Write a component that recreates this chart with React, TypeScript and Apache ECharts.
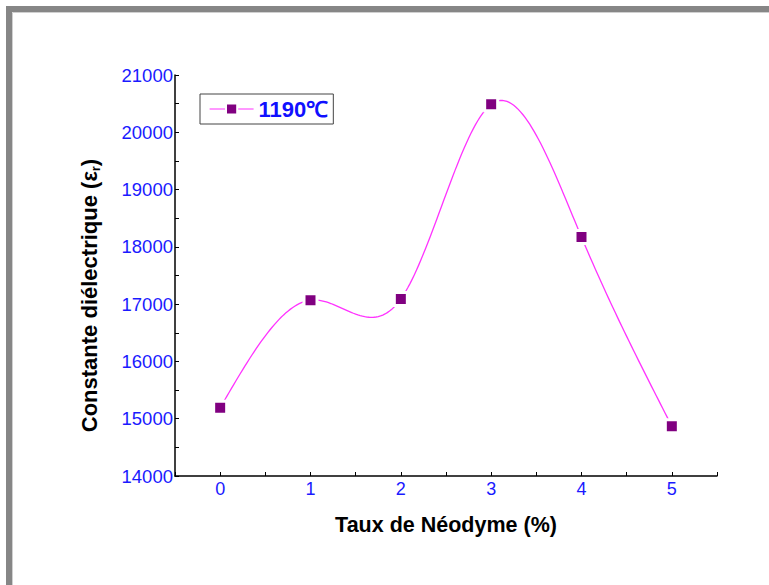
import React, { useEffect, useRef } from "react";
import * as echarts from "echarts";

const xValues = [0, 1, 2, 3, 4, 5];
const epsValues = [15190, 17070, 17090, 20490, 18170, 14870];
const seriesName = "1190℃";
const xTitle = "Taux de Néodyme (%)";
const yTitleMain = "Constante diélectrique (ε";
const yTitleSub = "r";

// natural cubic spline second derivatives (drawing of the curve through the data points)
function splineM(xs: number[], ys: number[]): number[] {
  const n = xs.length;
  const h: number[] = [];
  for (let i = 0; i < n - 1; i++) h.push(xs[i + 1] - xs[i]);
  const a: number[] = new Array(n).fill(0);
  const b: number[] = new Array(n).fill(1);
  const c: number[] = new Array(n).fill(0);
  const d: number[] = new Array(n).fill(0);
  for (let i = 1; i < n - 1; i++) {
    a[i] = h[i - 1];
    b[i] = 2 * (h[i - 1] + h[i]);
    c[i] = h[i];
    d[i] = 6 * ((ys[i + 1] - ys[i]) / h[i] - (ys[i] - ys[i - 1]) / h[i - 1]);
  }
  const cp = new Array(n).fill(0);
  const dp = new Array(n).fill(0);
  cp[0] = c[0] / b[0];
  dp[0] = d[0] / b[0];
  for (let i = 1; i < n; i++) {
    const den = b[i] - a[i] * cp[i - 1];
    cp[i] = c[i] / den;
    dp[i] = (d[i] - a[i] * dp[i - 1]) / den;
  }
  const M = new Array(n).fill(0);
  M[n - 1] = dp[n - 1];
  for (let i = n - 2; i >= 0; i--) M[i] = dp[i] - cp[i] * M[i + 1];
  return M;
}

export default function App() {
  const ref = useRef<HTMLDivElement>(null);
  useEffect(() => {
    if (!ref.current) return;
    const chart = echarts.init(ref.current, undefined, { renderer: "svg" });
    const M = splineM(xValues, epsValues);
    const n = xValues.length;
    const font = "'Liberation Sans', Arial, sans-serif";

    const option: any = {
      animation: false,
      backgroundColor: "#ffffff",
      graphic: [
        {
          type: "rect",
          silent: true,
          shape: { x: 9, y: 9, width: 820, height: 640 },
          style: { fill: "none", stroke: "#868686", lineWidth: 6 },
        },
        {
          type: "rect",
          silent: true,
          shape: { x: 12.5, y: 12.5, width: 820, height: 640 },
          style: { fill: "none", stroke: "#d0d0d0", lineWidth: 1 },
        },
      ],
      grid: { left: 175, right: 52, top: 75, bottom: 109 },
      legend: {
        left: 200,
        top: 94,
        orient: "horizontal",
        borderColor: "#444444",
        borderWidth: 1,
        padding: [4, 5, 4, 9],
        itemWidth: 44,
        itemHeight: 14,
        itemGap: 4,
        textStyle: {
          color: "#1010ff",
          fontSize: 22,
          fontWeight: "bold",
          fontFamily: font,
        },
        data: [
          {
            name: seriesName,
            lineStyle: { color: "#ff33ff", width: 1.2, opacity: 1 },
          },
        ],
      },
      xAxis: {
        type: "value",
        min: -0.5,
        max: 5.5,
        interval: 0.5,
        name: xTitle,
        nameLocation: "middle",
        nameGap: 38,
        nameTextStyle: {
          color: "#000",
          fontSize: 21.5,
          fontWeight: "bold",
          fontFamily: font,
        },
        axisLine: { show: true, onZero: false, lineStyle: { color: "#000", width: 1.5 } },
        axisTick: { show: true, inside: true, length: 4, lineStyle: { color: "#000", width: 1 } },
        axisLabel: {
          color: "#1a1aff",
          fontSize: 18,
          fontFamily: font,
          margin: 4,
          formatter: (v: number) => (Number.isInteger(v) ? String(v) : ""),
        },
        splitLine: { show: false },
      },
      yAxis: {
        type: "value",
        min: 14000,
        max: 21000,
        interval: 1000,
        name: "{m|" + yTitleMain + "}{s|" + yTitleSub + "}{m|)}",
        nameLocation: "middle",
        nameGap: 73,
        nameRotate: 90,
        nameTextStyle: {
          color: "#000",
          fontSize: 22,
          fontWeight: "bold",
          fontFamily: font,
          padding: [0, 40, 0, 0],
          rich: {
            m: { fontSize: 22, fontWeight: "bold", fontFamily: font, color: "#000", lineHeight: 26 },
            s: {
              fontSize: 13,
              fontWeight: "bold",
              fontFamily: font,
              color: "#000",
              verticalAlign: "bottom",
              lineHeight: 15,
              padding: [9, 0, 0, 0],
            },
          },
        },
        axisLine: { show: true, onZero: false, lineStyle: { color: "#000", width: 1.5 } },
        axisTick: { show: true, inside: true, length: 4, lineStyle: { color: "#000", width: 1 } },
        minorTick: { show: true, splitNumber: 2, length: 4, lineStyle: { color: "#000", width: 1 } },
        axisLabel: {
          color: "#1a1aff",
          fontSize: 18.5,
          fontFamily: font,
          margin: 2,
          formatter: (v: number) => String(v),
        },
        splitLine: { show: false },
      },
      series: [
        {
          type: "custom",
          name: "spline",
          silent: true,
          z: 2,
          data: xValues.map((x, i) => [x, epsValues[i]]),
          encode: { x: 0, y: 1 },
          renderItem: (params: any, api: any) => {
            const i = params.dataIndex;
            if (i >= n - 1) return { type: "group", children: [] };
            const x0 = xValues[i];
            const x1 = xValues[i + 1];
            const h = x1 - x0;
            const pts: number[][] = [];
            const steps = 40;
            for (let k = 0; k <= steps; k++) {
              const t = x0 + (h * k) / steps;
              const A = (x1 - t) / h;
              const B = (t - x0) / h;
              const y =
                A * epsValues[i] +
                B * epsValues[i + 1] +
                ((A * A * A - A) * M[i] + (B * B * B - B) * M[i + 1]) * (h * h) / 6;
              pts.push(api.coord([t, y]));
            }
            return {
              type: "polyline",
              shape: { points: pts },
              style: { stroke: "#ff33ff", lineWidth: 1.3, fill: "none" },
            };
          },
        },
        {
          type: "line",
          name: seriesName,
          z: 3,
          data: xValues.map((x, i) => [x, epsValues[i]]),
          symbol: "rect",
          symbolSize: 13,
          itemStyle: { color: "#800080", borderColor: "#ffffff", borderWidth: 3 },
          lineStyle: { opacity: 0, width: 0 },
        },
      ],
    };
    chart.setOption(option);
    return () => chart.dispose();
  }, []);
  return (
    <div
      ref={ref}
      style={{ position: "absolute", left: 0, top: 0, width: 769, height: 585 }}
    />
  );
}
